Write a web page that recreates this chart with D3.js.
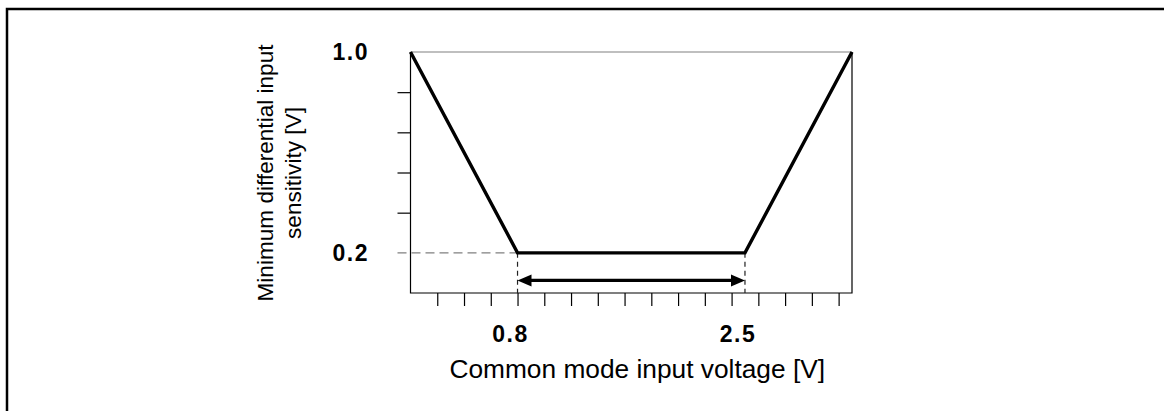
<!DOCTYPE html>
<html>
<head>
<meta charset="utf-8">
<script src="https://cdn.jsdelivr.net/npm/d3@7"></script>
<style>
  html, body { margin: 0; padding: 0; background: #fff; }
  svg { display: block; }
  text { font-family: "Liberation Sans", Arial, sans-serif; fill: #000; }
</style>
</head>
<body>
<svg id="chart" width="1164" height="411"></svg>
<script>
// Common mode input voltage [V] vs. minimum differential input sensitivity [V]
const curveX = [0.0, 0.8, 2.5, 3.3];
const curveY = [1.0, 0.2, 0.2, 1.0];

const xDomain = [0, 3.3];
const yDomain = [0.04, 1.0];

const xTickMarks = d3.range(1, 17).map(i => +(i * 0.2).toFixed(1));   // 0.2 … 3.2
const xTickLabels = [0.8, 2.5];
const yTickMarks = [0.36, 0.52, 0.68, 0.84];
const yTickLabels = [1.0, 0.2];

const rangeStart = 0.8, rangeEnd = 2.5;   // operating window marked by the arrow
const arrowLevel = 0.09;

const xTitle = "Common mode input voltage [V]";
const yTitleLines = ["Minimum differential input", "sensitivity [V]"];

const svg = d3.select("#chart");

// outer frame
svg.append("rect")
  .attr("x", 7).attr("y", 9)
  .attr("width", 1200).attr("height", 440)
  .attr("fill", "none").attr("stroke", "#000").attr("stroke-width", 2.5);

const x = d3.scaleLinear().domain(xDomain).range([410.5, 852]);
const y = d3.scaleLinear().domain(yDomain).range([293, 52]);

// plot box: grey top edge, black sides and bottom
svg.append("line")
  .attr("x1", x(xDomain[0])).attr("x2", x(xDomain[1]))
  .attr("y1", y(yDomain[1])).attr("y2", y(yDomain[1]))
  .attr("stroke", "#808080").attr("stroke-width", 1.2);

const box = d3.path();
box.moveTo(x(xDomain[0]), y(yDomain[1]));
box.lineTo(x(xDomain[0]), y(yDomain[0]));
box.lineTo(x(xDomain[1]), y(yDomain[0]));
box.lineTo(x(xDomain[1]), y(yDomain[1]));
svg.append("path").attr("d", box.toString())
  .attr("fill", "none").attr("stroke", "#000").attr("stroke-width", 1.2);

// bottom axis ticks
const xAxis = d3.axisBottom(x).tickValues(xTickMarks).tickSize(13).tickSizeOuter(0).tickFormat("");
const gx = svg.append("g").attr("transform", `translate(0,${y(yDomain[0])})`).call(xAxis);
gx.select(".domain").remove();
gx.selectAll(".tick line").attr("stroke", "#000").attr("stroke-width", 1.2);

// left axis ticks
const yAxis = d3.axisLeft(y).tickValues(yTickMarks).tickSize(13).tickSizeOuter(0).tickFormat("");
const gy = svg.append("g").attr("transform", `translate(${x(xDomain[0])},0)`).call(yAxis);
gy.select(".domain").remove();
gy.selectAll(".tick line").attr("stroke", "#000").attr("stroke-width", 1.2);

// grey dashed guide at the minimum sensitivity level
svg.append("line")
  .attr("x1", x(xDomain[0]) - 13).attr("x2", x(rangeStart))
  .attr("y1", y(0.2)).attr("y2", y(0.2))
  .attr("stroke", "#808080").attr("stroke-width", 1.2)
  .attr("stroke-dasharray", "9,5");

// dashed drop lines at the window edges
[rangeStart, rangeEnd].forEach(v => {
  svg.append("line")
    .attr("x1", x(v)).attr("x2", x(v))
    .attr("y1", y(0.2)).attr("y2", y(yDomain[0]))
    .attr("stroke", "#222").attr("stroke-width", 1.2)
    .attr("stroke-dasharray", "5,4");
});

// sensitivity curve
const line = d3.line().x(d => x(d[0])).y(d => y(d[1]));
svg.append("path")
  .datum(curveX.map((v, i) => [v, curveY[i]]))
  .attr("d", line)
  .attr("fill", "none").attr("stroke", "#000")
  .attr("stroke-width", 3.4).attr("stroke-linejoin", "miter");

// double-headed arrow over the window
const ay = y(arrowLevel), ax0 = x(rangeStart), ax1 = x(rangeEnd);
const headL = 14, headH = 6;
svg.append("line")
  .attr("x1", ax0 + headL - 1).attr("x2", ax1 - headL + 1)
  .attr("y1", ay).attr("y2", ay)
  .attr("stroke", "#000").attr("stroke-width", 3.2);
svg.append("path")
  .attr("d", `M${ax0},${ay}L${ax0 + headL},${ay - headH}L${ax0 + headL},${ay + headH}Z`)
  .attr("fill", "#000");
svg.append("path")
  .attr("d", `M${ax1},${ay}L${ax1 - headL},${ay - headH}L${ax1 - headL},${ay + headH}Z`)
  .attr("fill", "#000");

// tick labels
svg.selectAll(".xlab").data(xTickLabels).enter().append("text")
  .attr("x", d => x(d) - 7).attr("y", y(yDomain[0]) + 49)
  .attr("text-anchor", "middle")
  .style("font-size", "23px").style("font-weight", "bold")
  .style("letter-spacing", "1.5px")
  .text(d => d.toFixed(1));

svg.selectAll(".ylab").data(yTickLabels).enter().append("text")
  .attr("x", 369).attr("y", d => y(d))
  .attr("dy", "0.36em")
  .attr("text-anchor", "end")
  .style("font-size", "23px").style("font-weight", "bold")
  .style("letter-spacing", "1.5px")
  .text(d => d.toFixed(1));

// axis titles
svg.append("text")
  .attr("x", (x(xDomain[0]) + x(xDomain[1])) / 2 + 6).attr("y", 378)
  .attr("text-anchor", "middle")
  .style("font-size", "26.3px")
  .text(xTitle);

const yt = svg.append("text")
  .attr("transform", "translate(273,173) rotate(-90)")
  .attr("text-anchor", "middle")
  .style("font-size", "22.6px");
yTitleLines.forEach((t, i) => {
  yt.append("tspan").attr("x", 0).attr("dy", i === 0 ? 0 : 28).text(t);
});
</script>
</body>
</html>
